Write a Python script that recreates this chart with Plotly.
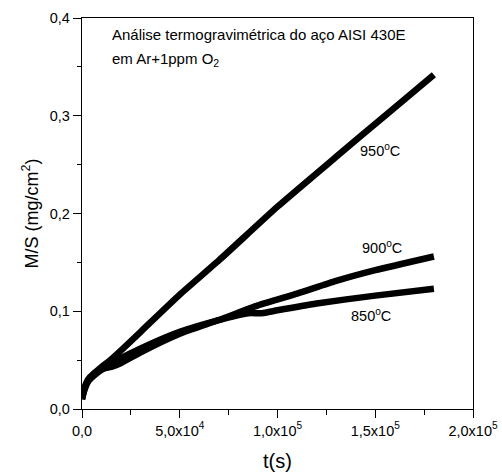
import plotly.graph_objects as go

t_950 = [0, 1e3, 3e3, 6e3, 1e4, 1.5e4, 2e4, 3e4, 5e4, 7e4, 1e5, 1.3e5, 1.55e5, 1.8e5]
m_950 = [0.010, 0.018, 0.028, 0.036, 0.043, 0.051, 0.060, 0.079, 0.117, 0.152, 0.207, 0.258, 0.300, 0.342]

t_900 = [0, 1e3, 3e3, 6e3, 1e4, 1.5e4, 2e4, 3e4, 5e4, 7e4, 9e4, 1.1e5, 1.3e5, 1.5e5, 1.8e5]
m_900 = [0.012, 0.020, 0.030, 0.036, 0.041, 0.043, 0.047, 0.058, 0.077, 0.091, 0.106, 0.118, 0.131, 0.142, 0.156]

t_850 = [0, 1e3, 3e3, 6e3, 1e4, 1.5e4, 2e4, 3e4, 5e4, 7e4, 8.5e4, 9.2e4, 1e5, 1.2e5, 1.5e5, 1.8e5]
m_850 = [0.010, 0.019, 0.028, 0.034, 0.040, 0.046, 0.052, 0.062, 0.079, 0.091, 0.098, 0.098, 0.101, 0.108, 0.116, 0.123]

x_tickvals = [0, 5e4, 1e5, 1.5e5, 2e5]
x_ticktext = ["0,0", "5,0x10<sup>4</sup>", "1,0x10<sup>5</sup>", "1,5x10<sup>5</sup>", "2,0x10<sup>5</sup>"]
y_tickvals = [0, 0.1, 0.2, 0.3, 0.4]
y_ticktext = ["0,0", "0,1", "0,2", "0,3", "0,4"]

labels = ["950<sup>o</sup>C", "900<sup>o</sup>C", "850<sup>o</sup>C"]
label_x = [1.525e5, 1.533e5, 1.48e5]
label_y = [0.265, 0.166, 0.096]

note_lines = ["Análise termogravimétrica do aço AISI 430E", "em Ar+1ppm O<sub>2</sub>"]

FONT = "Liberation Sans, Arial, sans-serif"

fig = go.Figure()
for t, m in [(t_950, m_950), (t_900, m_900), (t_850, m_850)]:
    fig.add_trace(go.Scatter(x=t, y=m, mode="lines",
                             line=dict(color="black", width=6.5, shape="spline", smoothing=0.5),
                             showlegend=False))

for txt, lx, ly in zip(labels, label_x, label_y):
    fig.add_annotation(x=lx, y=ly, text=txt, showarrow=False,
                       font=dict(size=14.5, color="black", family=FONT))

for txt, py in zip(note_lines, [0.957, 0.893]):
    fig.add_annotation(x=0.071, y=py, xref="paper", yref="paper", xanchor="left", yanchor="middle",
                       align="left", text=txt, showarrow=False,
                       font=dict(size=15, color="black", family=FONT))

axis_common = dict(showline=True, linecolor="black", linewidth=1.3, mirror=True, showgrid=False,
                   zeroline=False, ticks="outside", ticklen=8, tickwidth=1.2, tickcolor="black",
                   automargin=False, tickfont=dict(size=14.5, color="black", family=FONT))

fig.update_xaxes(range=[0, 2e5], tickvals=x_tickvals, ticktext=x_ticktext,
                 minor=dict(ticks="outside", ticklen=5, dtick=25000, tick0=0, tickcolor="black"),
                 title=dict(text="t(s)", font=dict(size=20, color="black", family=FONT), standoff=16),
                 **axis_common)
fig.update_yaxes(range=[0, 0.4], tickvals=y_tickvals, ticktext=y_ticktext,
                 minor=dict(ticks="outside", ticklen=4, dtick=0.05, tick0=0, tickcolor="black"),
                 title=dict(text="M/S (mg/cm<sup>2</sup>)", font=dict(size=18, color="black", family=FONT),
                            standoff=6),
                 **axis_common)

fig.update_layout(width=502, height=472, margin=dict(l=82, r=29, t=18, b=63),
                  plot_bgcolor="white", paper_bgcolor="white")

fig.write_html("out.html")
